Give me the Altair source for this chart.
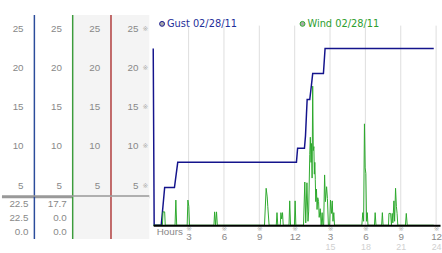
import json
import altair as alt
import pandas as pd

# ---------------- data ----------------
GUST_LABEL = "Gust 02/28/11"
WIND_LABEL = "Wind 02/28/11"

GUST_HOURS = [0.0, 0.08, 0.68, 0.97, 1.8, 2.08, 12.15, 12.25, 12.83, 12.92, 13.0, 13.06,
              13.28, 13.42, 13.53, 14.44, 14.58, 23.8]
GUST_MPH = [22.5, 0.0, 0.0, 4.8, 4.8, 8.0, 8.0, 9.8, 9.8, 11.4, 14.1, 16.0,
            16.0, 17.8, 19.3, 19.3, 22.5, 22.5]

WIND_HOURS = [0.0, 0.78, 0.83, 0.97, 1.02, 1.85, 1.92, 1.99, 2.88, 2.94, 3.02, 3.08,
              5.15, 5.21, 5.29, 5.37, 5.44, 9.44, 9.58, 9.67, 9.72, 9.83,
              10.44, 10.5, 10.57, 10.78, 10.83, 10.9, 10.97, 11.03, 11.52, 11.58, 11.65,
              11.98, 12.04, 12.1, 12.75, 12.86, 12.94, 13.04, 13.13, 13.19, 13.28, 13.33,
              13.39, 13.43, 13.48, 13.53, 13.58, 13.63, 13.67, 13.71, 13.75, 13.79, 13.85,
              13.9, 13.96, 14.03, 14.08, 14.17, 14.25, 14.33, 14.39, 14.46, 14.54, 14.61,
              14.71, 14.78, 14.86, 14.97, 15.04, 15.13, 15.19, 15.25, 15.32, 15.38,
              17.7, 17.78, 17.85, 17.92, 17.98, 18.04, 18.1, 18.16, 18.22,
              18.77, 18.83, 18.9, 19.38, 19.44, 19.5, 19.96, 20.0, 20.14, 20.21, 20.28,
              20.33, 20.42, 20.48, 20.56, 20.63, 20.69, 20.75, 21.4, 21.47, 21.55, 23.8]
WIND_MPH = [0.0, 0.0, 1.7, 1.7, 0.0, 0.0, 3.2, 0.0, 0.0, 3.2, 2.4, 0.0,
            0.0, 1.7, 0.0, 1.7, 0.0, 0.0, 4.7, 3.6, 2.4, 0.0,
            0.0, 1.6, 0.0, 0.0, 1.6, 0.8, 1.6, 0.0, 0.0, 3.1, 0.0,
            0.0, 3.1, 0.0, 0.0, 5.5, 0.3, 5.4, 0.5, 1.8, 9.0, 11.2,
            8.0, 10.4, 6.0, 17.7, 9.5, 10.0, 6.5, 8.0, 5.8, 3.0, 4.6,
            2.0, 3.5, 3.0, 1.0, 2.1, 0.0, 1.6, 0.0, 0.0, 6.4, 3.0,
            4.9, 3.4, 0.0, 0.0, 3.2, 1.5, 3.1, 0.5, 1.6, 0.0,
            0.0, 1.6, 0.5, 12.9, 7.3, 6.6, 0.5, 1.6, 0.0,
            0.0, 1.6, 0.0, 0.0, 1.6, 0.0, 0.0, 1.5, 1.5, 0.0, 1.5,
            0.3, 3.1, 0.5, 4.7, 2.4, 1.5, 0.0, 0.0, 1.5, 0.0, 0.0]

HOUR_TICKS = [3, 6, 9, 12, 15, 18, 21, 24]
HOUR_LABELS = ["3", "6", "9", "12", "3", "6", "9", "12"]
HOUR_LABELS_24 = ["", "", "", "", "15", "18", "21", "24"]
MPH_TICKS = [5, 10, 15, 20, 25]

PANEL_BOUNDARIES = [0, 1, 2, 3]
PANEL_LINE_COLORS = ["#2b4c9b", "#3c9c3c", "#b03a3a"]
SHADED_COLUMNS = [2, 3]
TABLE_GUST = [22.5, 22.5, 0.0]
TABLE_WIND = [17.7, 0.0, 0.0]

# ---------------- layout constants ----------------
PX_PER_MPH = 8
Y_TOP = 26.75
TABLE_SPLIT = 3.6
GRID_TOP = 25.4
MAIN_W = 292
LEFT_W = 150
COL_STEP = 39
X_DOMAIN = [0, MAIN_W / 12]

GRAY = "#888888"
NUM_FONT = "Liberation Sans"
MARK_GLYPH = "\u203b"

x_scale = alt.Scale(domain=X_DOMAIN, nice=False, zero=False)
y_scale = alt.Scale(domain=[0, Y_TOP], nice=False, zero=False)

ticks_df = pd.DataFrame({"hour": HOUR_TICKS})
gust_df = pd.DataFrame({"hour": GUST_HOURS, "mph": GUST_MPH, "series": GUST_LABEL})
wind_df = pd.DataFrame({"hour": WIND_HOURS, "mph": WIND_MPH, "series": WIND_LABEL})

expr_a = f"{json.dumps(HOUR_LABELS)}[indexof({json.dumps(HOUR_TICKS)}, datum.value)]"
expr_b = f"{json.dumps(HOUR_LABELS_24)}[indexof({json.dumps(HOUR_TICKS)}, datum.value)]"

common_axis = dict(orient="bottom", values=HOUR_TICKS, ticks=False, tickSize=0, grid=False,
                   labelFlush=False, labelOverlap=False, labelBound=False,
                   labelAngle=0, labelBaseline="middle")

grid = alt.Chart(ticks_df).mark_rule(color="#dddddd", strokeWidth=1).encode(
    x=alt.X("hour:Q", scale=x_scale, axis=alt.Axis(
        labelExpr=expr_a, domain=True, domainColor="#000000", domainWidth=2, zindex=1,
        labelPadding=12, labelFont=NUM_FONT, labelFontSize=10, labelColor=GRAY,
        title="Hours", titleX=3, titleY=6, titleAlign="left", titleBaseline="middle",
        titleAngle=0, titleFont=NUM_FONT, titleFontSize=10, titleFontWeight="normal",
        titleColor=GRAY, **common_axis)),
    y=alt.Y(datum=GRID_TOP, scale=y_scale, axis=alt.Axis(
        orient="left", values=MPH_TICKS, grid=True, gridColor="#dddddd", gridWidth=1,
        labels=False, ticks=False, tickSize=0, domain=True, domainColor="#000000",
        domainWidth=2, title=None)),
    y2=alt.Y2(datum=0),
)

legend_common = dict(orient="none", legendY=4, title=None, direction="horizontal",
                     symbolType="circle", symbolSize=25, symbolFillColor="#aaaaaa",
                     symbolStrokeColor="#999999", symbolStrokeWidth=1,
                     labelFont="DejaVu Sans", labelFontSize=10, labelOffset=0, padding=0)

gust = alt.Chart(gust_df).mark_line(strokeWidth=1.5).encode(
    x=alt.X("hour:Q", scale=x_scale, axis=alt.Axis(
        labelExpr=expr_b, domain=False, labelPadding=22, labelFont=NUM_FONT,
        labelFontSize=9, labelColor="#d0d0d0", title=None, **common_axis)),
    y=alt.Y("mph:Q", scale=y_scale, axis=None),
    color=alt.Color("series:N", scale=alt.Scale(domain=[GUST_LABEL], range=["#14148c"]),
                    legend=alt.Legend(legendX=4, labelColor="#1f2f9a", **legend_common)),
)

wind = alt.Chart(wind_df).mark_line(strokeWidth=1).encode(
    x=alt.X("hour:Q", scale=x_scale, axis=alt.Axis(
        labelExpr=f"'{MARK_GLYPH}'", domain=False, labelPadding=3,
        labelFont="DejaVu Sans", labelFontSize=7, labelColor="#aaaaaa", title=None,
        **common_axis)),
    y=alt.Y("mph:Q", scale=y_scale, axis=None),
    color=alt.Color("series:N", scale=alt.Scale(domain=[WIND_LABEL], range=["#2ca82c"]),
                    legend=alt.Legend(legendX=147, labelColor="#2e9e2e", **legend_common)),
)

main = alt.layer(grid, gust, wind).resolve_scale(color="independent").resolve_axis(
    x="independent").properties(width=MAIN_W, height=round(Y_TOP * PX_PER_MPH))

# ---------------- left panel ----------------
left_x_scale = alt.Scale(domain=[3 - LEFT_W / COL_STEP, 3], nice=False, zero=False)

shade_df = pd.DataFrame({"right": SHADED_COLUMNS})
shade_df["left"] = shade_df["right"] - 1
lines_df = pd.DataFrame({"boundary": PANEL_BOUNDARIES[:3], "color": PANEL_LINE_COLORS})
labels_df = pd.DataFrame([{"boundary": b, "mph": m, "label": str(m)}
                          for b in PANEL_BOUNDARIES for m in MPH_TICKS])
marks_df = pd.DataFrame([{"boundary": PANEL_BOUNDARIES[-1], "mph": m} for m in MPH_TICKS])
split_df = pd.DataFrame({"split": [TABLE_SPLIT]})
table_df = pd.DataFrame(
    [{"boundary": 0, "row": i, "v": v} for i, v in enumerate(TABLE_GUST)]
    + [{"boundary": 1, "row": i, "v": v} for i, v in enumerate(TABLE_WIND)])


def shade():
    return alt.Chart(shade_df).mark_rect(color="#f4f4f4").encode(
        x=alt.X("left:Q", scale=left_x_scale, axis=None), x2="right:Q")


def lines():
    return alt.Chart(lines_df).mark_rule(strokeWidth=1.5).encode(
        x=alt.X("boundary:Q", scale=left_x_scale, axis=None),
        color=alt.Color("color:N", scale=None))


panel_y = alt.Scale(domain=[TABLE_SPLIT, Y_TOP], nice=False, zero=False)
axis_labels = alt.Chart(labels_df).mark_text(
    align="right", baseline="middle", dx=-11, font=NUM_FONT, fontSize=10, color=GRAY
).encode(x=alt.X("boundary:Q", scale=left_x_scale, axis=None),
         y=alt.Y("mph:Q", scale=panel_y, axis=None), text="label:N")
axis_marks = alt.Chart(marks_df).mark_text(
    align="center", baseline="middle", dx=-4, font="DejaVu Sans", fontSize=7,
    color="#aaaaaa", text=MARK_GLYPH
).encode(x=alt.X("boundary:Q", scale=left_x_scale, axis=None),
         y=alt.Y("mph:Q", scale=panel_y, axis=None))
separator = alt.Chart(split_df).mark_rule(color="#999999", strokeWidth=3).encode(
    y=alt.Y("split:Q", scale=panel_y, axis=None))

axes_panel = alt.layer(shade(), lines(), axis_labels, axis_marks, separator).properties(
    width=LEFT_W, height=round((Y_TOP - TABLE_SPLIT) * PX_PER_MPH))

table_text = alt.Chart(table_df).mark_text(
    align="right", baseline="middle", dx=-6, font=NUM_FONT, fontSize=10, color=GRAY
).encode(x=alt.X("boundary:Q", scale=left_x_scale, axis=None),
         y=alt.Y("row:O", axis=None, scale=alt.Scale(paddingInner=0, paddingOuter=0)),
         text=alt.Text("v:Q", format=".1f"))
table_panel = alt.layer(shade(), lines(), table_text).properties(width=LEFT_W, height=43)

left = alt.vconcat(axes_panel, table_panel, spacing=0, bounds="flush")

chart = alt.hconcat(left, main, spacing=-1).properties(
    padding={"left": 0, "top": 12, "right": 0, "bottom": 0}
).configure_view(stroke=None)

chart.save("out.html", embed_options={"renderer": "svg", "actions": False})
